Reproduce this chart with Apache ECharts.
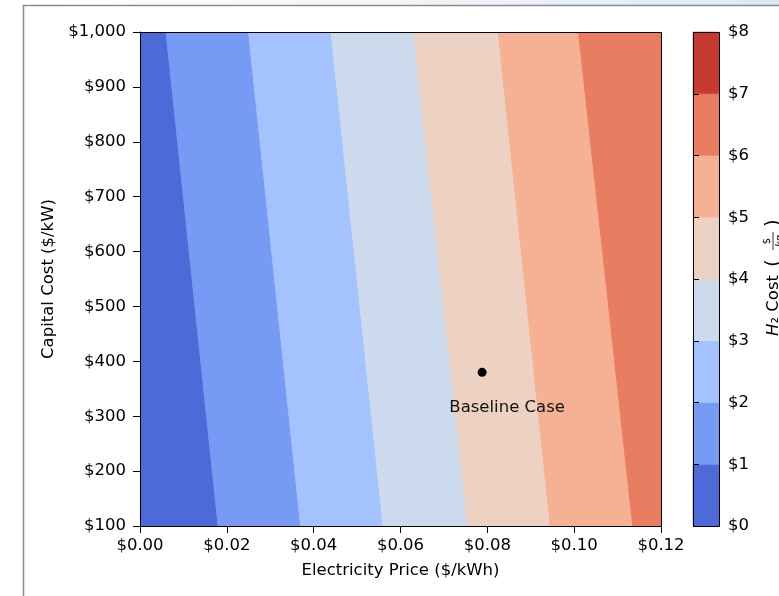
<!DOCTYPE html>
<html>
<head>
<meta charset="utf-8">
<script src="https://cdn.jsdelivr.net/npm/echarts@6/dist/echarts.min.js"></script>
<style>
html, body { margin: 0; padding: 0; background: #fff; }
#chart { width: 779px; height: 596px; }
</style>
</head>
<body>
<div id="chart"></div>
<script>
// axis ranges
const priceRange = [0, 0.12];
const capexRange = [100, 1000];

// H2 cost levels for the colour bar ($/kg)
const costLevels = [0, 1, 2, 3, 4, 5, 6, 7, 8];
const bandColors = ['#4e69d8', '#779af4', '#a3c2fe', '#cdd9ec', '#edd2c3', '#f6b194', '#e97d62', '#c73a33'];

// electricity price where the $1 .. $7 contours cross the top ($1,000) and bottom ($100) of the plot
const contourAtTop = [0.006, 0.025, 0.044, 0.063, 0.0825, 0.101, 0.1205];
const contourAtBottom = [0.018, 0.037, 0.056, 0.0755, 0.0945, 0.1135, 0.133];

// baseline case marker
const baseline = [0.0788, 380];
const baselineLabel = 'Baseline Case';

const FONT = 'DejaVu Sans';
const FS = 16.5;

// one polygon per band: [leftTop, rightTop, leftBottom, rightBottom, band]
const bands = contourAtTop.map((top, k) => [
    k === 0 ? priceRange[0] : contourAtTop[k - 1],
    top,
    k === 0 ? priceRange[0] : contourAtBottom[k - 1],
    contourAtBottom[k],
    k
]);

const chart = echarts.init(document.getElementById('chart'));

chart.setOption({
    animation: false,
    textStyle: { fontFamily: FONT },
    grid: [
        { left: 140, top: 32, width: 521, height: 494 },
        { left: 693, top: 32, width: 26, height: 494 }
    ],
    xAxis: [
        {
            type: 'value', gridIndex: 0,
            min: priceRange[0], max: priceRange[1], interval: 0.02,
            splitLine: { show: false },
            axisLine: { show: true, lineStyle: { color: '#000' } },
            axisTick: { show: true, length: 7, lineStyle: { color: '#000' } },
            axisLabel: { color: '#000', fontSize: FS, margin: 11, formatter: v => '$' + v.toFixed(2) },
            name: 'Electricity Price ($/kWh)',
            nameLocation: 'middle', nameGap: 36,
            nameTextStyle: { color: '#000', fontSize: FS },
            z: 10
        },
        {
            type: 'value', gridIndex: 1, min: 0, max: 1, show: false
        }
    ],
    yAxis: [
        {
            type: 'value', gridIndex: 0,
            min: capexRange[0], max: capexRange[1], interval: 100,
            splitLine: { show: false },
            axisLine: { show: true, lineStyle: { color: '#000' } },
            axisTick: { show: true, length: 7, lineStyle: { color: '#000' } },
            axisLabel: { color: '#000', fontSize: FS, margin: 14, formatter: v => '$' + v.toLocaleString('en-US') },
            name: 'Capital Cost ($/kW)',
            nameLocation: 'middle', nameGap: 81,
            nameTextStyle: { color: '#000', fontSize: FS },
            z: 10
        },
        {
            type: 'value', gridIndex: 1, position: 'right',
            min: costLevels[0], max: costLevels[costLevels.length - 1], interval: 1,
            splitLine: { show: false },
            axisLine: { show: false },
            axisTick: { show: true, length: 6, lineStyle: { color: '#000' } },
            axisLabel: { color: '#000', fontSize: FS, margin: 9, formatter: v => '$' + v },
            z: 10
        }
    ],
    series: [
        {
            type: 'custom',
            xAxisIndex: 0, yAxisIndex: 0,
            clip: true,
            silent: true,
            encode: { x: [0, 1, 2, 3] },
            data: bands,
            renderItem: (params, api) => {
                const pts = [
                    api.coord([api.value(0), capexRange[1]]),
                    api.coord([api.value(1), capexRange[1]]),
                    api.coord([api.value(3), capexRange[0]]),
                    api.coord([api.value(2), capexRange[0]])
                ];
                const c = bandColors[api.value(4)];
                return { type: 'polygon', shape: { points: pts }, style: { fill: c, stroke: c, lineWidth: 1 } };
            },
            z: 1
        },
        {
            // plot frame
            type: 'custom',
            xAxisIndex: 0, yAxisIndex: 0,
            silent: true,
            data: [[priceRange[0], capexRange[0]]],
            renderItem: (params, api) => {
                const a = api.coord([priceRange[0], capexRange[1]]);
                const b = api.coord([priceRange[1], capexRange[0]]);
                return {
                    type: 'rect',
                    shape: { x: Math.round(a[0]) + 0.5, y: Math.round(a[1]) + 0.5, width: Math.round(b[0] - a[0]), height: Math.round(b[1] - a[1]) },
                    style: { fill: null, stroke: '#000', lineWidth: 1 }
                };
            },
            z: 5
        },
        {
            type: 'scatter',
            xAxisIndex: 0, yAxisIndex: 0,
            data: [baseline],
            symbolSize: 9,
            itemStyle: { color: '#000', opacity: 1 },
            label: {
                show: true, position: 'inside', offset: [25, 35],
                formatter: baselineLabel, color: '#111', fontSize: FS, fontFamily: FONT
            },
            z: 6
        },
        {
            // colour bar
            type: 'custom',
            xAxisIndex: 1, yAxisIndex: 1,
            silent: true,
            data: costLevels.slice(0, -1).map((v, k) => [v, k]),
            renderItem: (params, api) => {
                const lo = api.value(0);
                const a = api.coord([0, lo + 1]);
                const b = api.coord([1, lo]);
                const c = bandColors[api.value(1)];
                return { type: 'rect', shape: { x: a[0], y: a[1], width: b[0] - a[0], height: b[1] - a[1] }, style: { fill: c, stroke: c, lineWidth: 0.5 } };
            },
            z: 1
        },
        {
            // colour bar frame
            type: 'custom',
            xAxisIndex: 1, yAxisIndex: 1,
            silent: true,
            data: [[0, 0]],
            renderItem: (params, api) => {
                const a = api.coord([0, costLevels[costLevels.length - 1]]);
                const b = api.coord([1, costLevels[0]]);
                return {
                    type: 'rect',
                    shape: { x: Math.round(a[0]) + 0.5, y: Math.round(a[1]) + 0.5, width: Math.round(b[0] - a[0]), height: Math.round(b[1] - a[1]) },
                    style: { fill: null, stroke: '#000', lineWidth: 1 }
                };
            },
            z: 5
        }
    ],
    graphic: [
        {
            type: 'rect', z: -1, silent: true,
            shape: { x: 0, y: 0, width: 779, height: 5 },
            style: { fill: new echarts.graphic.LinearGradient(0, 0, 1, 0, [
                { offset: 0, color: '#ffffff' }, { offset: 0.5, color: '#f2f6fb' }, { offset: 1, color: '#dce8f5' }
            ]) }
        },
        {
            type: 'polyline', z: 1, silent: true,
            shape: { points: [[23.5, 596], [23.5, 5.5], [779, 5.5]] },
            style: { stroke: '#8c8c8c', lineWidth: 1.5, fill: null }
        },
        {
            // colour bar title, rotated
            type: 'group', x: 774, y: 279, rotation: Math.PI / 2, silent: true,
            children: [
                {
                    type: 'text', x: -57, y: 0,
                    style: {
                        text: '{h|H}₂ Cost', fontSize: FS, fontFamily: FONT, fill: '#000',
                        align: 'left', verticalAlign: 'middle',
                        rich: { h: { fontStyle: 'italic', fontSize: FS, fontFamily: FONT } }
                    }
                },
                { type: 'text', x: 12, y: 0, style: { text: '(', fontSize: 20, fontFamily: FONT, fill: '#000', align: 'left', verticalAlign: 'middle' } },
                { type: 'text', x: 38, y: -7, style: { text: '$', fontSize: 10, fontFamily: FONT, fill: '#000', align: 'center', verticalAlign: 'middle' } },
                { type: 'line', shape: { x1: 29, y1: -1, x2: 47, y2: -1 }, style: { stroke: '#000', lineWidth: 0.8 } },
                { type: 'text', x: 38, y: 6, style: { text: 'kg', fontSize: 10, fontStyle: 'italic', fontFamily: FONT, fill: '#000', align: 'center', verticalAlign: 'middle' } },
                { type: 'text', x: 52, y: 0, style: { text: ')', fontSize: 20, fontFamily: FONT, fill: '#000', align: 'left', verticalAlign: 'middle' } }
            ]
        }
    ]
});
</script>
</body>
</html>
